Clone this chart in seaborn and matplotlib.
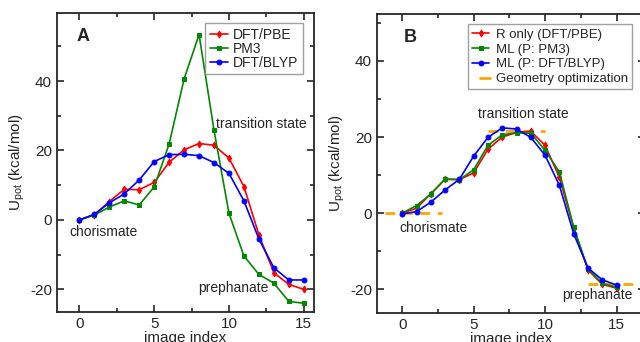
import matplotlib
matplotlib.use('Agg')
import matplotlib.pyplot as plt
from matplotlib.ticker import MultipleLocator
from matplotlib.lines import Line2D
import seaborn as sns
import pandas as pd

idx = list(range(16))

# panel A
dft_pbe = [0, 1.5, 5.3, 8.8, 8.7, 10.8, 16.6, 20.2, 22.0, 21.5, 17.8, 9.6, -4.3, -15.2, -18.6, -20.0]
pm3 = [0, 1.4, 3.7, 5.5, 4.3, 9.5, 21.9, 40.6, 53.4, 25.8, 1.9, -10.4, -15.7, -18.2, -23.5, -24.0]
dft_blyp = [0, 1.6, 4.9, 7.5, 11.5, 16.8, 18.8, 18.9, 18.5, 16.5, 13.4, 5.5, -5.5, -13.8, -17.3, -17.3]

# panel B
r_only = [0, 1.3, 5.1, 8.9, 8.8, 10.6, 16.8, 20.0, 21.2, 21.5, 17.8, 9.4, -3.8, -14.9, -18.7, -19.7]
ml_pm3 = [0, 2.0, 5.0, 9.0, 8.8, 11.4, 17.8, 20.6, 21.1, 21.0, 16.5, 10.8, -3.7, -14.7, -18.4, -19.5]
ml_blyp = [-0.2, 0.4, 2.9, 6.1, 8.9, 15.0, 19.9, 22.4, 22.1, 19.9, 15.2, 7.3, -5.4, -14.4, -17.5, -18.9]

# geometry optimization levels (y, x start, x end)
geom_y = [0, 21.6, -18.6]
geom_x0 = [-1.2, 6.0, 13.0]
geom_x1 = [2.8, 10.0, 17.5]

sns.set_style('ticks')
plt.rcParams['font.family'] = ['Liberation Sans', 'DejaVu Sans']
plt.rcParams['mathtext.fontset'] = 'custom'
plt.rcParams['mathtext.rm'] = 'Liberation Sans'
plt.rcParams['axes.unicode_minus'] = False

fig = plt.figure(figsize=(6.4, 3.42), dpi=100)
axA = fig.add_axes([0.089, 0.088, 0.402, 0.874])
axB = fig.add_axes([0.589, 0.085, 0.419, 0.874])

red, green, blue = '#ff0000', '#008800', '#0000ff'
msizes = [3.5, 3, 3.5]


def draw(ax, ys, labels, markers, colors):
    for y, lab, m, c, ms in zip(ys, labels, markers, colors, msizes):
        df = pd.DataFrame({'x': idx, 'y': y})
        sns.lineplot(data=df, x='x', y='y', ax=ax, color=c, marker=m, markersize=ms,
                     markeredgecolor=c, linewidth=1.2, label=lab)


draw(axA, [dft_pbe, pm3, dft_blyp], ['DFT/PBE', 'PM3', 'DFT/BLYP'],
     ['d', 's', 'o'], [red, green, blue])
draw(axB, [r_only, ml_pm3, ml_blyp], ['R only (DFT/PBE)', 'ML (P: PM3)', 'ML (P: DFT/BLYP)'],
     ['d', 's', 'o'], [red, green, blue])

axB.hlines(geom_y, geom_x0, geom_x1, colors='#ffa500', linestyles=(0, (3.5, 2.8)), linewidth=2, zorder=1)

axA.set_xlim(-1.5, 15.7)
axA.set_ylim(-26.5, 59.6)
axB.set_xlim(-1.77, 17.0)
axB.set_ylim(-26.2, 52.3)

for ax in (axA, axB):
    ax.xaxis.set_major_locator(MultipleLocator(5))
    ax.xaxis.set_minor_locator(MultipleLocator(2.5))
    ax.yaxis.set_major_locator(MultipleLocator(20))
    ax.yaxis.set_minor_locator(MultipleLocator(10))
    ax.tick_params(which='both', direction='in', top=True, right=True, labelsize=11, width=1.2)
    ax.tick_params(which='major', length=5)
    ax.tick_params(which='minor', length=3)
    for s in ax.spines.values():
        s.set_linewidth(1.3)
    ax.set_xlabel('image index', fontsize=11, labelpad=0)
    ax.set_ylabel(r'U$_{\rm pot}$ (kcal/mol)', fontsize=11, labelpad=2)

axA.text(0.1, 0.92, 'A', transform=axA.transAxes, fontsize=13, fontweight='bold', va='center', ha='center')
axB.text(0.125, 0.92, 'B', transform=axB.transAxes, fontsize=13, fontweight='bold', va='center', ha='center')

axA.text(-0.7, -3.5, 'chorismate', fontsize=10, va='center')
axA.text(9.15, 27.6, 'transition state', fontsize=10, va='center')
axA.text(7.95, -19.6, 'prephanate', fontsize=10, va='center')

axB.text(-0.2, -3.9, 'chorismate', fontsize=10, va='center')
axB.text(5.3, 26.0, 'transition state', fontsize=10, va='center')
axB.text(11.2, -21.4, 'prephanate', fontsize=10, va='center')

legA = axA.legend(loc='upper right', bbox_to_anchor=(0.955, 0.965), fontsize=10, frameon=True,
                  fancybox=False, edgecolor='#888888', handlelength=1.3, handletextpad=0.4,
                  borderpad=0.3, labelspacing=0.0, borderaxespad=0)
legA.get_frame().set_linewidth(1.0)

h, l = axB.get_legend_handles_labels()
h.append(Line2D([], [], color='#ffa500', linestyle='-', linewidth=2))
l.append('Geometry optimization')
legB = axB.legend(h, l, loc='upper right', bbox_to_anchor=(0.951, 0.965), fontsize=9.5, frameon=True,
                  fancybox=False, edgecolor='#888888', handlelength=1.3, handletextpad=0.5,
                  borderpad=0.3, labelspacing=0.2, borderaxespad=0)
legB.get_frame().set_linewidth(1.0)
# shorter dash for geometry optimization handle
gl = legB.get_lines()[3]
gl.set_data([5.5, 12.5], [gl.get_ydata()[0]] * 2)

fig.savefig('out.png', dpi=100)
